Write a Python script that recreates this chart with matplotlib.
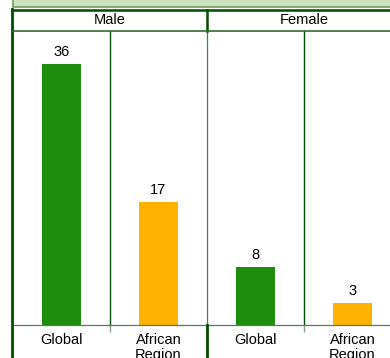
import matplotlib.pyplot as plt
from matplotlib.lines import Line2D
from matplotlib.patches import Rectangle

plt.rcParams['font.family'] = ['Liberation Sans', 'DejaVu Sans']

sexes = ["Male", "Female"]
regions = ["Global", "African\nRegion"]
values = [36, 17, 8, 3]
bar_colors = ["#1e8c0c", "#ffb200", "#1e8c0c", "#ffb200"]

W, H = 390, 358
DARK = "#004d00"

fig = plt.figure(figsize=(W / 100, H / 100), dpi=100)


def fx(px):
    return px / W


def fy(py):
    return 1 - py / H


# title strip (clipped at the top)
fig.patches.append(Rectangle((fx(13), fy(7)), fx(400) - fx(13), fy(-5) - fy(7),
                             transform=fig.transFigure, facecolor="#cde4c0",
                             edgecolor="#6e9a5e", linewidth=1.2))

# bar area: four panels of equal width
left, right, top, bottom = 13, 401, 31, 325
ax = fig.add_axes([fx(left), fy(bottom), fx(right) - fx(left), fy(top) - fy(bottom)])
xs = [0.5, 1.5, 2.5, 3.5]
bars = ax.bar(xs, values, width=0.41, color=bar_colors)
for x, v in zip(xs, values):
    ax.text(x, v + 0.7, str(v), ha="center", va="bottom", fontsize=10.5)

ax.set_xlim(0, 4)
ax.set_ylim(0, 40.6)
ax.set_yticks([])
ax.set_xticks([1, 3])
ax.set_xticklabels([])
ax.tick_params(axis="x", length=5, color="#999999", width=1)
for s in ["top", "right", "left"]:
    ax.spines[s].set_visible(False)
ax.spines["bottom"].set_color("#4f7f4f")
ax.spines["bottom"].set_linewidth(0.9)
ax.axvline(1, color=DARK, lw=1.0)
ax.axvline(3, color=DARK, lw=1.0)
ax.axvline(2, color="#4f7f4f", lw=0.9)

# category labels under the bars
for i, x in enumerate(xs):
    ax.text(x, -1.05, regions[i % 2], ha="center", va="top", fontsize=10.5,
            linespacing=1.15, transform=ax.transData, clip_on=False)

# table frame around the sex headers and labels
def fline(x0, y0, x1, y1, lw, color=DARK):
    fig.lines.append(Line2D([fx(x0), fx(x1)], [fy(y0), fy(y1)],
                            transform=fig.transFigure, color=color, lw=lw))


fline(12.5, 10, 400, 10, 1.8)
fline(12.5, 9, 12.5, 360, 2.0)
fline(207, 10, 207, 31, 1.8)
fline(207, 325, 207, 360, 2.0)
fline(12, 31, 400, 31, 1.2, "#2f6a2f")

for i, sex in enumerate(sexes):
    cx = (left + 97 + 194 * i)
    fig.text(fx(cx), fy(20.5), sex, ha="center", va="center", fontsize=10.5)

fig.savefig("out.png", dpi=100)
